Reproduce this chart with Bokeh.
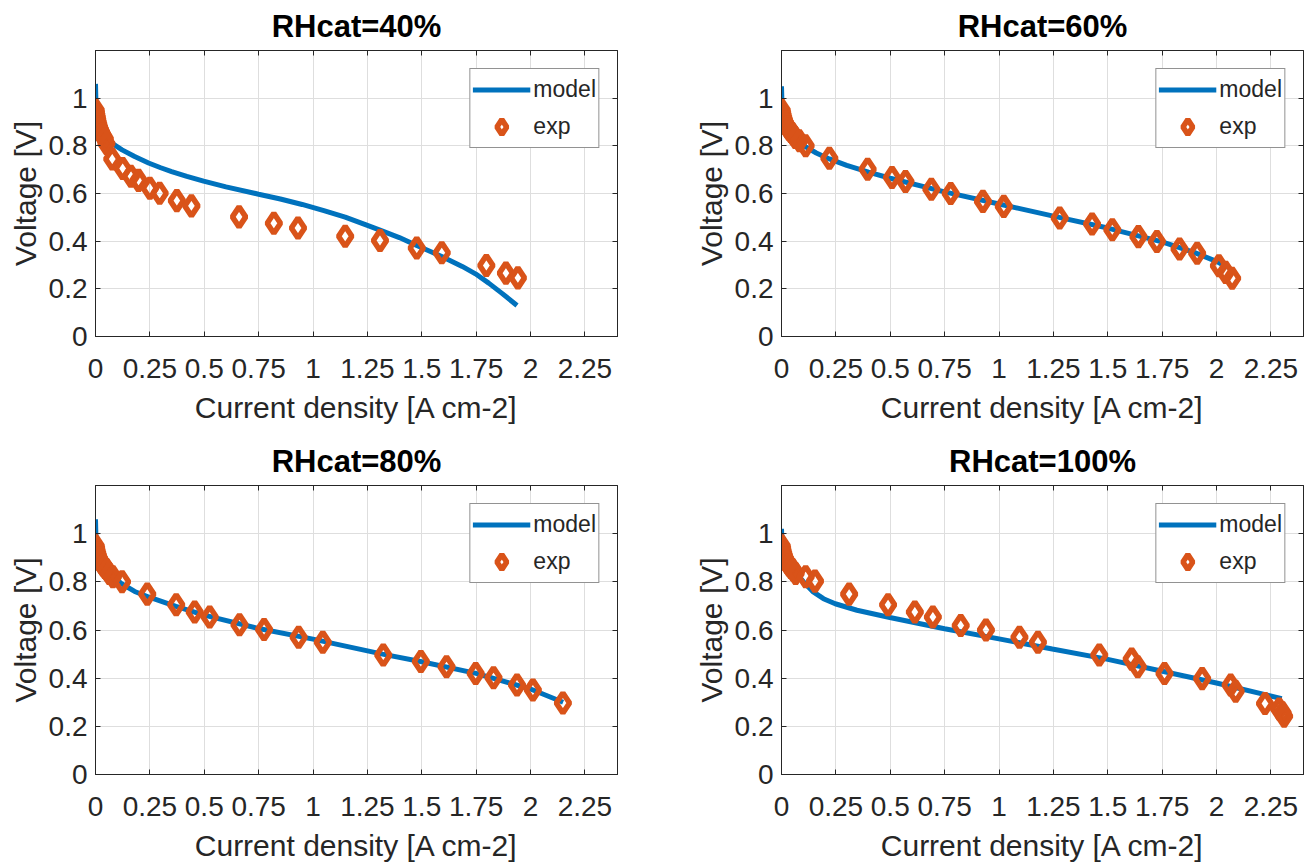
from bokeh.plotting import figure
from bokeh.layouts import gridplot
from bokeh.models import FixedTicker, LinearAxis, Range1d, Legend, LegendItem
from bokeh.embed import file_html
from bokeh.resources import INLINE

# ---------------- data ----------------
titles = ["RHcat=40%", "RHcat=60%", "RHcat=80%", "RHcat=100%"]
x_ticks = [0, 0.25, 0.5, 0.75, 1, 1.25, 1.5, 1.75, 2, 2.25]
x_tick_labels = ["0", "0.25", "0.5", "0.75", "1", "1.25", "1.5", "1.75", "2", "2.25"]
y_ticks = [0, 0.2, 0.4, 0.6, 0.8, 1]
y_tick_labels = ["0", "0.2", "0.4", "0.6", "0.8", "1"]
x_label = "Current density [A cm-2]"
y_label = "Voltage [V]"
legend_labels = ["model", "exp"]

model40_x = [0, 0.002, 0.006, 0.015, 0.03, 0.061, 0.085, 0.122, 0.18, 0.244, 0.30, 0.35,
             0.42, 0.497, 0.6, 0.75, 0.85, 0.95, 1.05, 1.148, 1.247, 1.308, 1.397, 1.477,
             1.592, 1.686, 1.747, 1.808, 1.869, 1.938]
model40_y = [1.06, 0.98, 0.94, 0.90, 0.87, 0.83, 0.805, 0.783, 0.755, 0.728, 0.708, 0.692,
             0.672, 0.652, 0.628, 0.597, 0.577, 0.554, 0.528, 0.501, 0.467, 0.446, 0.415,
             0.382, 0.336, 0.294, 0.263, 0.224, 0.181, 0.130]
exp40_x = [0.001, 0.002, 0.004, 0.006, 0.008, 0.010, 0.013, 0.016, 0.020, 0.025, 0.030,
           0.036, 0.043, 0.050, 0.077, 0.125, 0.163, 0.198, 0.250, 0.295, 0.374, 0.441,
           0.660, 0.820, 0.931, 1.148, 1.308, 1.477, 1.592, 1.797, 1.887, 1.942]
exp40_y = [0.95, 0.94, 0.93, 0.92, 0.91, 0.90, 0.89, 0.88, 0.87, 0.86, 0.85,
           0.84, 0.83, 0.81, 0.745, 0.705, 0.672, 0.655, 0.622, 0.601, 0.570, 0.548,
           0.502, 0.475, 0.455, 0.421, 0.403, 0.371, 0.351, 0.298, 0.266, 0.246]

model60_x = [0, 0.002, 0.006, 0.015, 0.03, 0.06, 0.11, 0.16, 0.22, 0.3, 0.4, 0.5, 0.75,
             1.0, 1.25, 1.5, 1.75, 1.9, 2.0, 2.05]
model60_y = [1.05, 0.98, 0.94, 0.905, 0.875, 0.84, 0.797, 0.77, 0.745, 0.718, 0.69, 0.664,
             0.607, 0.556, 0.505, 0.455, 0.397, 0.352, 0.315, 0.29]
exp60_x = [0.001, 0.003, 0.005, 0.008, 0.011, 0.015, 0.020, 0.026, 0.033, 0.042, 0.052,
           0.063, 0.082, 0.111, 0.220, 0.396, 0.508, 0.570, 0.689, 0.778, 0.926, 1.022,
           1.279, 1.428, 1.521, 1.641, 1.726, 1.830, 1.911, 2.011, 2.042, 2.072]
exp60_y = [0.95, 0.94, 0.93, 0.92, 0.91, 0.90, 0.89, 0.88, 0.87, 0.86, 0.85,
           0.835, 0.821, 0.80, 0.748, 0.702, 0.667, 0.650, 0.618, 0.600, 0.567, 0.546,
           0.497, 0.472, 0.448, 0.419, 0.399, 0.367, 0.349, 0.297, 0.269, 0.244]

model80_x = [0, 0.002, 0.006, 0.015, 0.03, 0.06, 0.12, 0.18, 0.25, 0.37, 0.5, 0.75, 1.0,
             1.32, 1.5, 1.75, 2.0, 2.15]
model80_y = [1.06, 0.98, 0.94, 0.905, 0.875, 0.84, 0.792, 0.76, 0.735, 0.698, 0.662, 0.606,
             0.562, 0.50, 0.468, 0.42, 0.355, 0.30]
exp80_x = [0.001, 0.003, 0.005, 0.008, 0.011, 0.015, 0.020, 0.026, 0.033, 0.042, 0.052,
           0.063, 0.080, 0.122, 0.238, 0.371, 0.456, 0.525, 0.662, 0.775, 0.934, 1.045,
           1.323, 1.496, 1.614, 1.748, 1.830, 1.938, 2.011, 2.149]
exp80_y = [0.95, 0.94, 0.93, 0.92, 0.91, 0.90, 0.89, 0.88, 0.87, 0.86, 0.85,
           0.835, 0.821, 0.80, 0.749, 0.705, 0.675, 0.654, 0.622, 0.602, 0.570, 0.549,
           0.496, 0.469, 0.447, 0.419, 0.402, 0.372, 0.351, 0.297]

model100_x = [0, 0.002, 0.008, 0.031, 0.069, 0.108, 0.146, 0.193, 0.247, 0.347, 0.498,
              0.75, 1.0, 1.245, 1.495, 1.746, 1.995, 2.30]
model100_y = [1.02, 0.97, 0.94, 0.884, 0.835, 0.793, 0.758, 0.730, 0.709, 0.682, 0.652,
              0.605, 0.563, 0.521, 0.479, 0.43, 0.381, 0.315]
exp100_x = [0.001, 0.003, 0.005, 0.008, 0.011, 0.015, 0.020, 0.026, 0.033, 0.042, 0.052,
            0.065, 0.111, 0.154, 0.311, 0.490, 0.613, 0.696, 0.824, 0.940, 1.094, 1.179,
            1.461, 1.610, 1.638, 1.761, 1.934, 2.065, 2.088, 2.223, 2.288, 2.304, 2.311]
exp100_y = [0.95, 0.94, 0.93, 0.92, 0.91, 0.90, 0.89, 0.88, 0.87, 0.86, 0.85,
            0.835, 0.821, 0.803, 0.749, 0.705, 0.675, 0.654, 0.619, 0.600, 0.570, 0.549,
            0.496, 0.479, 0.447, 0.419, 0.398, 0.372, 0.346, 0.295, 0.272, 0.256, 0.242]

# ---------------- style ----------------
FONT = "Liberation Sans"
TXT = "#262626"
BLUE = "#0072BD"
ORANGE = "#D95319"
GRID = "#dedede"


def panel(title, mx, my, ex, ey, left, right, top, bottom, fh):
    p = figure(frame_width=522, frame_height=fh, output_backend="svg",
               toolbar_location=None, x_range=Range1d(0, 2.4), y_range=Range1d(0, 1.2),
               min_border_left=left, min_border_right=right,
               min_border_top=top, min_border_bottom=bottom)
    p.background_fill_color = "white"
    p.border_fill_color = "white"
    p.outline_line_color = TXT
    p.outline_line_width = 1

    p.title.text = title
    p.title.align = "center"
    p.title.text_font = FONT
    p.title.text_font_size = "31px"
    p.title.text_font_style = "bold"
    p.title.text_color = "#000000"
    p.title.standoff = 13

    xa = p.xaxis[0]
    xa.ticker = FixedTicker(ticks=x_ticks)
    xa.major_label_overrides = {t: s for t, s in zip(x_ticks, x_tick_labels)}
    xa.axis_label = x_label
    ya = p.yaxis[0]
    ya.ticker = FixedTicker(ticks=y_ticks)
    ya.major_label_overrides = {t: s for t, s in zip(y_ticks, y_tick_labels)}
    ya.axis_label = y_label
    for ax in (xa, ya):
        ax.axis_label_text_font = FONT
        ax.axis_label_text_font_size = "30px"
        ax.axis_label_text_font_style = "normal"
        ax.axis_label_text_color = TXT
        ax.major_label_text_font = FONT
        ax.major_label_text_font_size = "28px"
        ax.major_label_text_color = TXT
        ax.axis_line_color = TXT
        ax.major_tick_line_color = TXT
        ax.major_tick_in = 5
        ax.major_tick_out = 0
        ax.minor_tick_line_color = None
    xa.major_label_standoff = 22
    xa.axis_label_standoff = 10
    ya.major_label_standoff = 8
    ya.axis_label_standoff = 4

    for place, tk in (("above", x_ticks), ("right", y_ticks)):
        ax2 = LinearAxis(ticker=FixedTicker(ticks=tk), major_label_text_font_size="0px",
                         major_label_standoff=0, major_tick_in=5, major_tick_out=0,
                         minor_tick_line_color=None, axis_line_color=TXT,
                         major_tick_line_color=TXT)
        ax2.major_label_overrides = {t: "" for t in tk}
        p.add_layout(ax2, place)

    p.xgrid.ticker = FixedTicker(ticks=x_ticks)
    p.ygrid.ticker = FixedTicker(ticks=y_ticks)
    p.xgrid.grid_line_color = GRID
    p.ygrid.grid_line_color = GRID

    lr = p.line(mx, my, line_color=BLUE, line_width=5)
    sr = p.scatter(ex, ey, marker="diamond", size=20, line_color=ORANGE, line_width=5.5,
                   fill_color=None)

    leg = Legend(items=[LegendItem(label=legend_labels[0], renderers=[lr]),
                        LegendItem(label=legend_labels[1], renderers=[sr])],
                 location="top_right")
    leg.margin = 18
    leg.padding = 2
    leg.spacing = 0
    leg.glyph_width = 58
    leg.glyph_height = 37
    leg.label_height = 37
    leg.label_standoff = 3
    leg.label_text_font = FONT
    leg.label_text_font_size = "23px"
    leg.label_text_color = TXT
    leg.border_line_color = TXT
    leg.border_line_width = 1
    leg.background_fill_color = "white"
    leg.background_fill_alpha = 1
    p.add_layout(leg)
    return p


p1 = panel(titles[0], model40_x, model40_y, exp40_x, exp40_y, 95, 39, 50, 97, 286)
p2 = panel(titles[1], model60_x, model60_y, exp60_x, exp60_y, 125, 10, 50, 97, 286)
p3 = panel(titles[2], model80_x, model80_y, exp80_x, exp80_y, 95, 39, 52, 93, 289)
p4 = panel(titles[3], model100_x, model100_y, exp100_x, exp100_y, 125, 10, 52, 93, 289)

layout = gridplot([[p1, p2], [p3, p4]], toolbar_location=None)

open("out.html", "w").write(file_html(layout, INLINE))
